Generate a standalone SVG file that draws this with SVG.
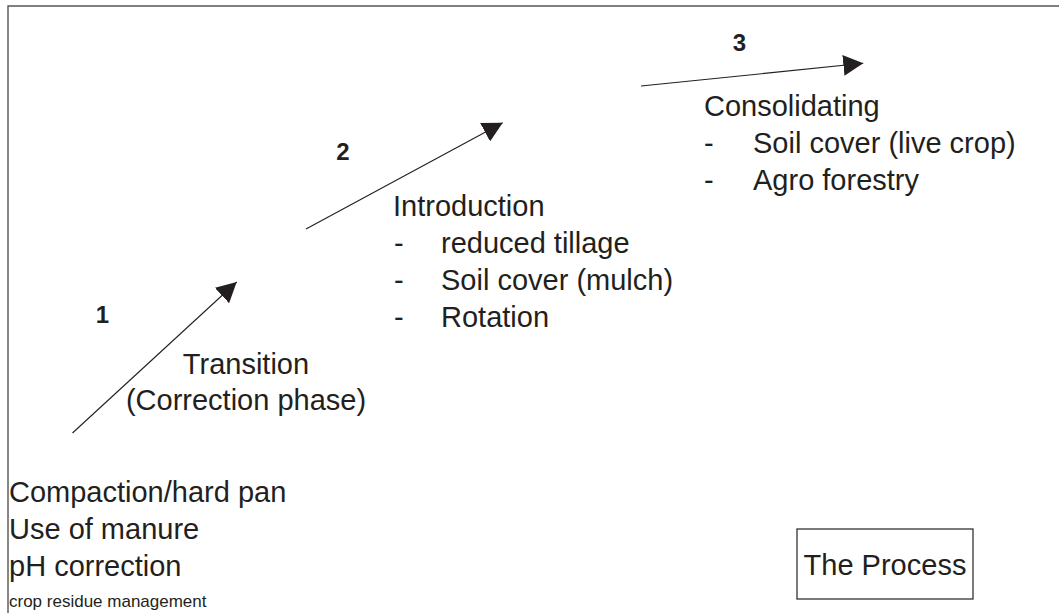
<svg xmlns="http://www.w3.org/2000/svg" width="1059" height="613" viewBox="0 0 1059 613">
  <style>
    .lbl { font-family: "Liberation Sans", Arial, sans-serif; font-size: 29px; fill: #231f20; }
    .num { font-family: "Liberation Sans", Arial, sans-serif; font-size: 24px; font-weight: bold; fill: #231f20; }
    .small { font-family: "Liberation Sans", Arial, sans-serif; font-size: 17px; fill: #231f20; }
    .arrow { stroke: #231f20; stroke-width: 1.1; fill: none; marker-end: url(#head); }
  </style>
  <defs>
    <marker id="head" markerUnits="userSpaceOnUse" markerWidth="20" markerHeight="21" refX="20" refY="10.5" orient="auto">
      <path d="M0,0 L20,10.5 L0,21 Z" fill="#231f20"/>
    </marker>
  </defs>

  <rect width="1059" height="613" fill="#ffffff"/>
  <!-- page frame (top and left edges visible) -->
  <polyline points="8,613 8,6 1059,6" fill="none" stroke="#555555" stroke-width="1.4"/>

  <g id="connectors">
    <line class="arrow" x1="72.5" y1="433" x2="236.7" y2="282"/>
    <line class="arrow" x1="306" y1="229" x2="502.7" y2="122.7"/>
    <line class="arrow" x1="641" y1="86" x2="863.3" y2="63.3"/>
  </g>

  <g id="step-numbers">
    <text class="num" x="102.5" y="323" text-anchor="middle">1</text>
    <text class="num" x="343" y="160" text-anchor="middle">2</text>
    <text class="num" x="739.5" y="51" text-anchor="middle">3</text>
  </g>

  <g id="start">
    <text class="lbl" x="9" y="502">Compaction/hard pan</text>
    <text class="lbl" x="9" y="539">Use of manure</text>
    <text class="lbl" x="9" y="576">pH correction</text>
    <text class="small" x="9" y="607">crop residue management</text>
  </g>

  <g id="transition">
    <text class="lbl" x="246" y="374" text-anchor="middle">Transition</text>
    <text class="lbl" x="246" y="410" text-anchor="middle">(Correction phase)</text>
  </g>

  <g id="introduction">
    <text class="lbl" x="393" y="216">Introduction</text>
    <text class="lbl" x="394" y="253">-</text>
    <text class="lbl" x="441" y="253">reduced tillage</text>
    <text class="lbl" x="394" y="290">-</text>
    <text class="lbl" x="441" y="290">Soil cover (mulch)</text>
    <text class="lbl" x="394" y="327">-</text>
    <text class="lbl" x="441" y="327">Rotation</text>
  </g>

  <g id="consolidating">
    <text class="lbl" x="704" y="116">Consolidating</text>
    <text class="lbl" x="704" y="153">-</text>
    <text class="lbl" x="753" y="153">Soil cover (live crop)</text>
    <text class="lbl" x="704" y="190">-</text>
    <text class="lbl" x="753" y="190">Agro forestry</text>
  </g>

  <g id="the-process">
    <rect x="797" y="529" width="176" height="70" fill="none" stroke="#333333" stroke-width="1.3"/>
    <text class="lbl" x="885" y="575" text-anchor="middle">The Process</text>
  </g>
</svg>
